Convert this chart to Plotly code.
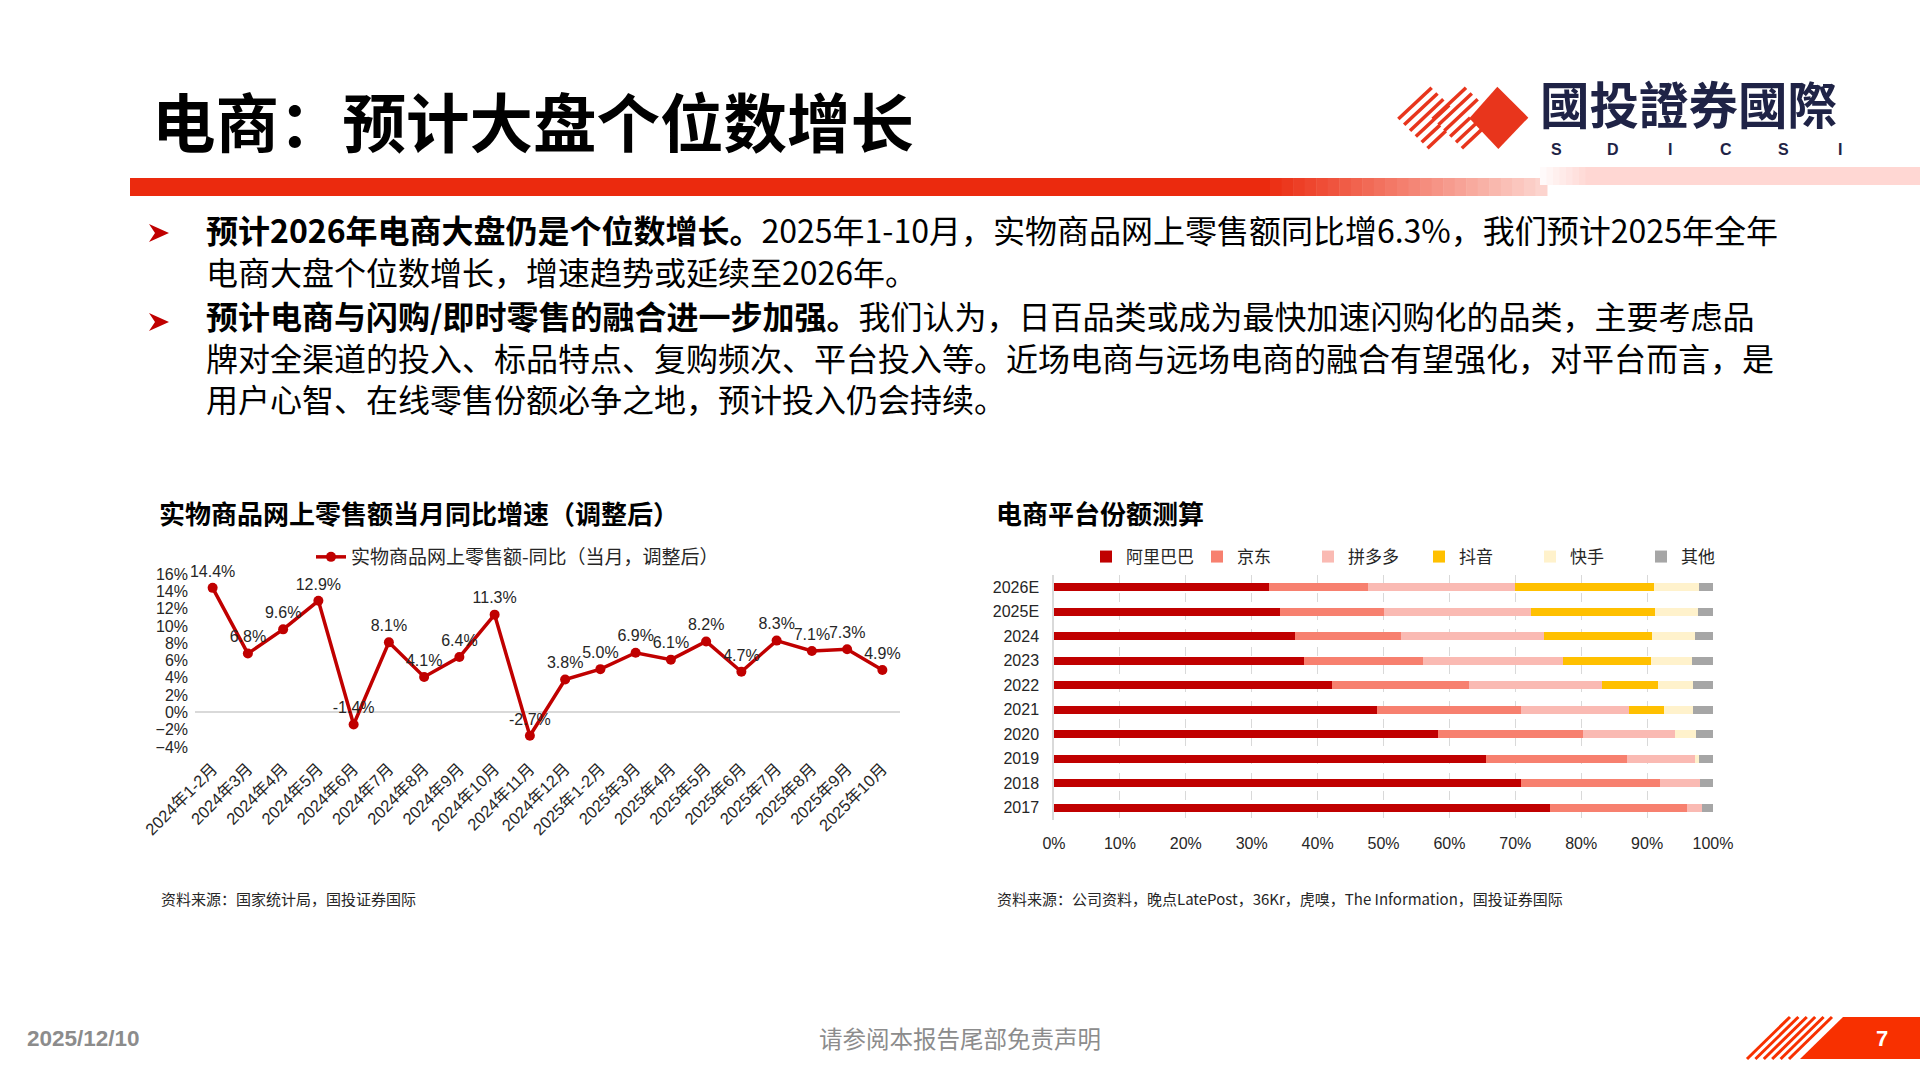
import plotly.graph_objects as go

W, H = 1920, 1080


def px(x):
    return x / W


def py(y):
    return 1 - y / H


CJK = "Noto Sans CJK SC, sans-serif"
NUM = "Liberation Sans, Noto Sans CJK SC, sans-serif"

# ---------------- data ----------------
months = ["2024年1-2月", "2024年3月", "2024年4月", "2024年5月", "2024年6月", "2024年7月",
          "2024年8月", "2024年9月", "2024年10月", "2024年11月", "2024年12月",
          "2025年1-2月", "2025年3月", "2025年4月", "2025年5月", "2025年6月", "2025年7月",
          "2025年8月", "2025年9月", "2025年10月"]
growth = [14.4, 6.8, 9.6, 12.9, -1.4, 8.1, 4.1, 6.4, 11.3, -2.7,
          3.8, 5.0, 6.9, 6.1, 8.2, 4.7, 8.3, 7.1, 7.3, 4.9]
line_name = "实物商品网上零售额-同比（当月，调整后）"

years = ["2026E", "2025E", "2024", "2023", "2022", "2021", "2020", "2019", "2018", "2017"]
alibaba = [32.6, 34.3, 36.5, 38.0, 42.2, 49.0, 58.3, 65.6, 70.8, 75.2]
jd = [15.0, 15.8, 16.2, 18.0, 20.8, 21.9, 21.9, 21.3, 21.2, 20.9]
pdd = [22.3, 22.3, 21.7, 21.2, 20.1, 16.3, 14.1, 10.4, 6.1, 2.3]
douyin = [21.1, 18.8, 16.4, 13.4, 8.5, 5.3, 0, 0, 0, 0]
kuaishou = [6.8, 6.5, 6.4, 6.2, 5.4, 4.5, 3.1, 0.6, 0, 0]
others = [2.2, 2.3, 2.8, 3.2, 3.0, 3.0, 2.6, 2.1, 1.9, 1.6]
platforms = ["阿里巴巴", "京东", "拼多多", "抖音", "快手", "其他"]
platform_colors = ["#C00000", "#F7806F", "#FABAB3", "#FFC000", "#FFF2CC", "#A6A6A6"]

fig = go.Figure()

# ---------------- line chart ----------------
fig.add_trace(go.Scatter(
    x=months, y=growth, name=line_name, mode="lines+markers+text",
    text=[f"{v:.1f}%" for v in growth], textposition="top center",
    textfont=dict(size=16, family=NUM, color="#262626"),
    line=dict(color="#C00000", width=3.5), marker=dict(size=10, color="#C00000"),
    cliponaxis=False, xaxis="x", yaxis="y", legend="legend",
))

# ---------------- stacked bar chart ----------------
for name, vals, col in zip(platforms, [alibaba, jd, pdd, douyin, kuaishou, others], platform_colors):
    fig.add_trace(go.Bar(
        y=years, x=vals, name=name, orientation="h", marker=dict(color=col, line=dict(width=0)),
        xaxis="x2", yaxis="y2", legend="legend2",
    ))

fig.update_layout(
    width=W, height=H, autosize=False,
    margin=dict(l=0, r=0, t=0, b=0, pad=0, autoexpand=False),
    paper_bgcolor="white", plot_bgcolor="white", barmode="stack", bargap=0.68,
    showlegend=True,
    xaxis=dict(domain=[px(195), px(900)], type="category", range=[-0.5, len(months) - 0.5],
               autorange=False, tickangle=-45, automargin=False,
               tickfont=dict(size=16.5, family=NUM, color="#262626"), showgrid=False,
               showline=False, ticks="", anchor="y", ticklabelstandoff=8),
    yaxis=dict(domain=[py(747), py(574)], range=[-4, 16], autorange=False, dtick=2,
               ticksuffix="%", automargin=False,
               showgrid=False, zeroline=True, zerolinecolor="#D9D9D9", zerolinewidth=1.5,
               tickfont=dict(size=16, family=NUM, color="#262626"), ticks="",
               anchor="x", ticklabelstandoff=6),
    xaxis2=dict(domain=[px(1054), px(1713)], range=[0, 100], autorange=False, dtick=10,
                ticksuffix="%", automargin=False,
                showgrid=True, griddash="dash", gridcolor="#D9D9D9", gridwidth=1,
                zeroline=False, showline=False, anchor="y2", ticks="",
                tickfont=dict(size=16, family=NUM, color="#262626"), ticklabelstandoff=12),
    yaxis2=dict(domain=[py(820), py(575)], anchor="x2", type="category", autorange="reversed",
                automargin=False,
                showline=True, linecolor="#D9D9D9", linewidth=1.5, showgrid=False, ticks="",
                tickfont=dict(size=16, family=NUM, color="#262626"), ticklabelstandoff=10),
    legend=dict(x=px(311), y=py(557), xanchor="left", yanchor="middle", orientation="h",
                font=dict(size=19, family=CJK, color="#262626"), bgcolor="rgba(0,0,0,0)",
                itemwidth=30),
    legend2=dict(x=px(1086), y=py(557), xanchor="left", yanchor="middle", orientation="h",
                 font=dict(size=17, family=CJK, color="#262626"), bgcolor="rgba(0,0,0,0)",
                 traceorder="normal", entrywidth=66, entrywidthmode="pixels", itemwidth=30),
)

# ---------------- decorations ----------------
shapes = []


def rect(x0, y0, x1, y1, color):
    shapes.append(dict(type="rect", xref="paper", yref="paper", x0=px(x0), x1=px(x1),
                       y0=py(y1), y1=py(y0), fillcolor=color, line=dict(width=0), layer="below"))


def poly(points, color):
    path = "M " + " L ".join("%f %f" % (px(a), py(b)) for a, b in points) + " Z"
    shapes.append(dict(type="path", xref="paper", yref="paper", path=path,
                       fillcolor=color, line=dict(width=0)))


def lerp(c1, c2, t):
    return "rgb(%d,%d,%d)" % tuple(round(a + (b - a) * t) for a, b in zip(c1, c2))


# red header bar with gradient
rect(130, 178, 1270, 196, "#EB2A0E")
steps = 24
for i in range(steps):
    x0 = 1270 + (1547 - 1270) * i / steps
    x1 = 1270 + (1547 - 1270) * (i + 1) / steps + 0.5
    rect(x0, 178, x1, 196, lerp((235, 42, 14), (252, 212, 206), (i + 1) / steps))
# light pink band
for i in range(8):
    x0 = 1540 + 52 * i / 8
    x1 = 1540 + 52 * (i + 1) / 8 + 0.5
    rect(x0, 167, x1, 185, lerp((255, 255, 255), (255, 215, 211), (i + 1) / 8))
rect(1592, 167, 1920, 185, "#FFD7D3")


# logo stripes and diamond (zoomed coords -> original)
def lz(zx, zy):
    return 1390 + zx / 3, 75 + zy / 3


def seg(p0, p1, color="#E8351C", width=3.5):
    shapes.append(dict(type="line", xref="paper", yref="paper", x0=px(p0[0]), y0=py(p0[1]),
                       x1=px(p1[0]), y1=py(p1[1]), line=dict(color=color, width=width)))


for k in range(6):
    sx, sy = 25 + 17.5 * k, 132 + 17.5 * k
    length = 1.0 if k < 4 else 0.55
    seg(lz(sx, sy), lz(sx + 100 * length, sy - 94 * length))
for k in range(6):
    sx, sy = 128 + 17.5 * k, 132 + 17.5 * k
    length = 1.0 if k < 3 else 0.6
    seg(lz(sx, sy), lz(sx + 100 * length, sy - 94 * length))
poly([lz(322, 35), lz(415, 128), lz(325, 222), lz(238, 130)], "#E8351C")

# page number box
poly([(1843, 1017), (1920, 1017), (1920, 1059), (1800, 1059)], "#F83000")
for k in range(6):
    seg((1747 + 8.4 * k, 1059), (1790 + 8.4 * k, 1017), color="#F83000", width=3)

# bullet arrowheads
for yb in (233, 322):
    poly([(149, yb - 9), (169, yb), (149, yb + 9), (155, yb)], "#C00000")

fig.update_layout(shapes=shapes)

# ---------------- texts ----------------
ann = []


def txt(x, y, text, size, color="#000000", family=CJK, xanchor="left", yanchor="middle"):
    ann.append(dict(x=px(x), y=py(y), xref="paper", yref="paper", text=text, showarrow=False,
                    xanchor=xanchor, yanchor=yanchor, align="left",
                    font=dict(size=size, color=color, family=family)))


txt(150, 119, "<b>电商：预计大盘个位数增长</b>", 63.5)
txt(1538, 102, "<b>國投證券國際</b>", 49.5, color="#1F2346", family="Noto Sans CJK TC, sans-serif")
for i, ch in enumerate("SDICSI"):
    txt(1556 + 56.8 * i, 149, "<b>%s</b>" % ch, 16, color="#1F2346", family=NUM, xanchor="center")

para1 = ("<b>预计2026年电商大盘仍是个位数增长。</b>2025年1-10月，实物商品网上零售额同比增6.3%，我们预计2025年全年"
         "<br>电商大盘个位数增长，增速趋势或延续至2026年。")
para2 = ("<b>预计电商与闪购/即时零售的融合进一步加强。</b>我们认为，日百品类或成为最快加速闪购化的品类，主要考虑品"
         "<br>牌对全渠道的投入、标品特点、复购频次、平台投入等。近场电商与远场电商的融合有望强化，对平台而言，是"
         "<br>用户心智、在线零售份额必争之地，预计投入仍会持续。")
txt(204, 250, para1, 32)
txt(204, 357, para2, 32)

txt(157, 512, "<b>实物商品网上零售额当月同比增速（调整后）</b>", 26)
txt(994, 512, "<b>电商平台份额测算</b>", 26)
txt(159, 898, "资料来源：国家统计局，国投证券国际", 15, color="#262626")
txt(995, 898, "资料来源：公司资料，晚点LatePost，36Kr，虎嗅，The Information，国投证券国际", 15,
    color="#262626")

txt(25, 1038, "<b>2025/12/10</b>", 22.5, color="#8C8C8C", family=NUM)
txt(960, 1038, "请参阅本报告尾部免责声明", 23.5, color="#8C8C8C", xanchor="center")
txt(1882, 1038, "<b>7</b>", 22, color="#FFFFFF", family=NUM, xanchor="center")

fig.update_layout(annotations=ann)

fig.write_html("out.html")
